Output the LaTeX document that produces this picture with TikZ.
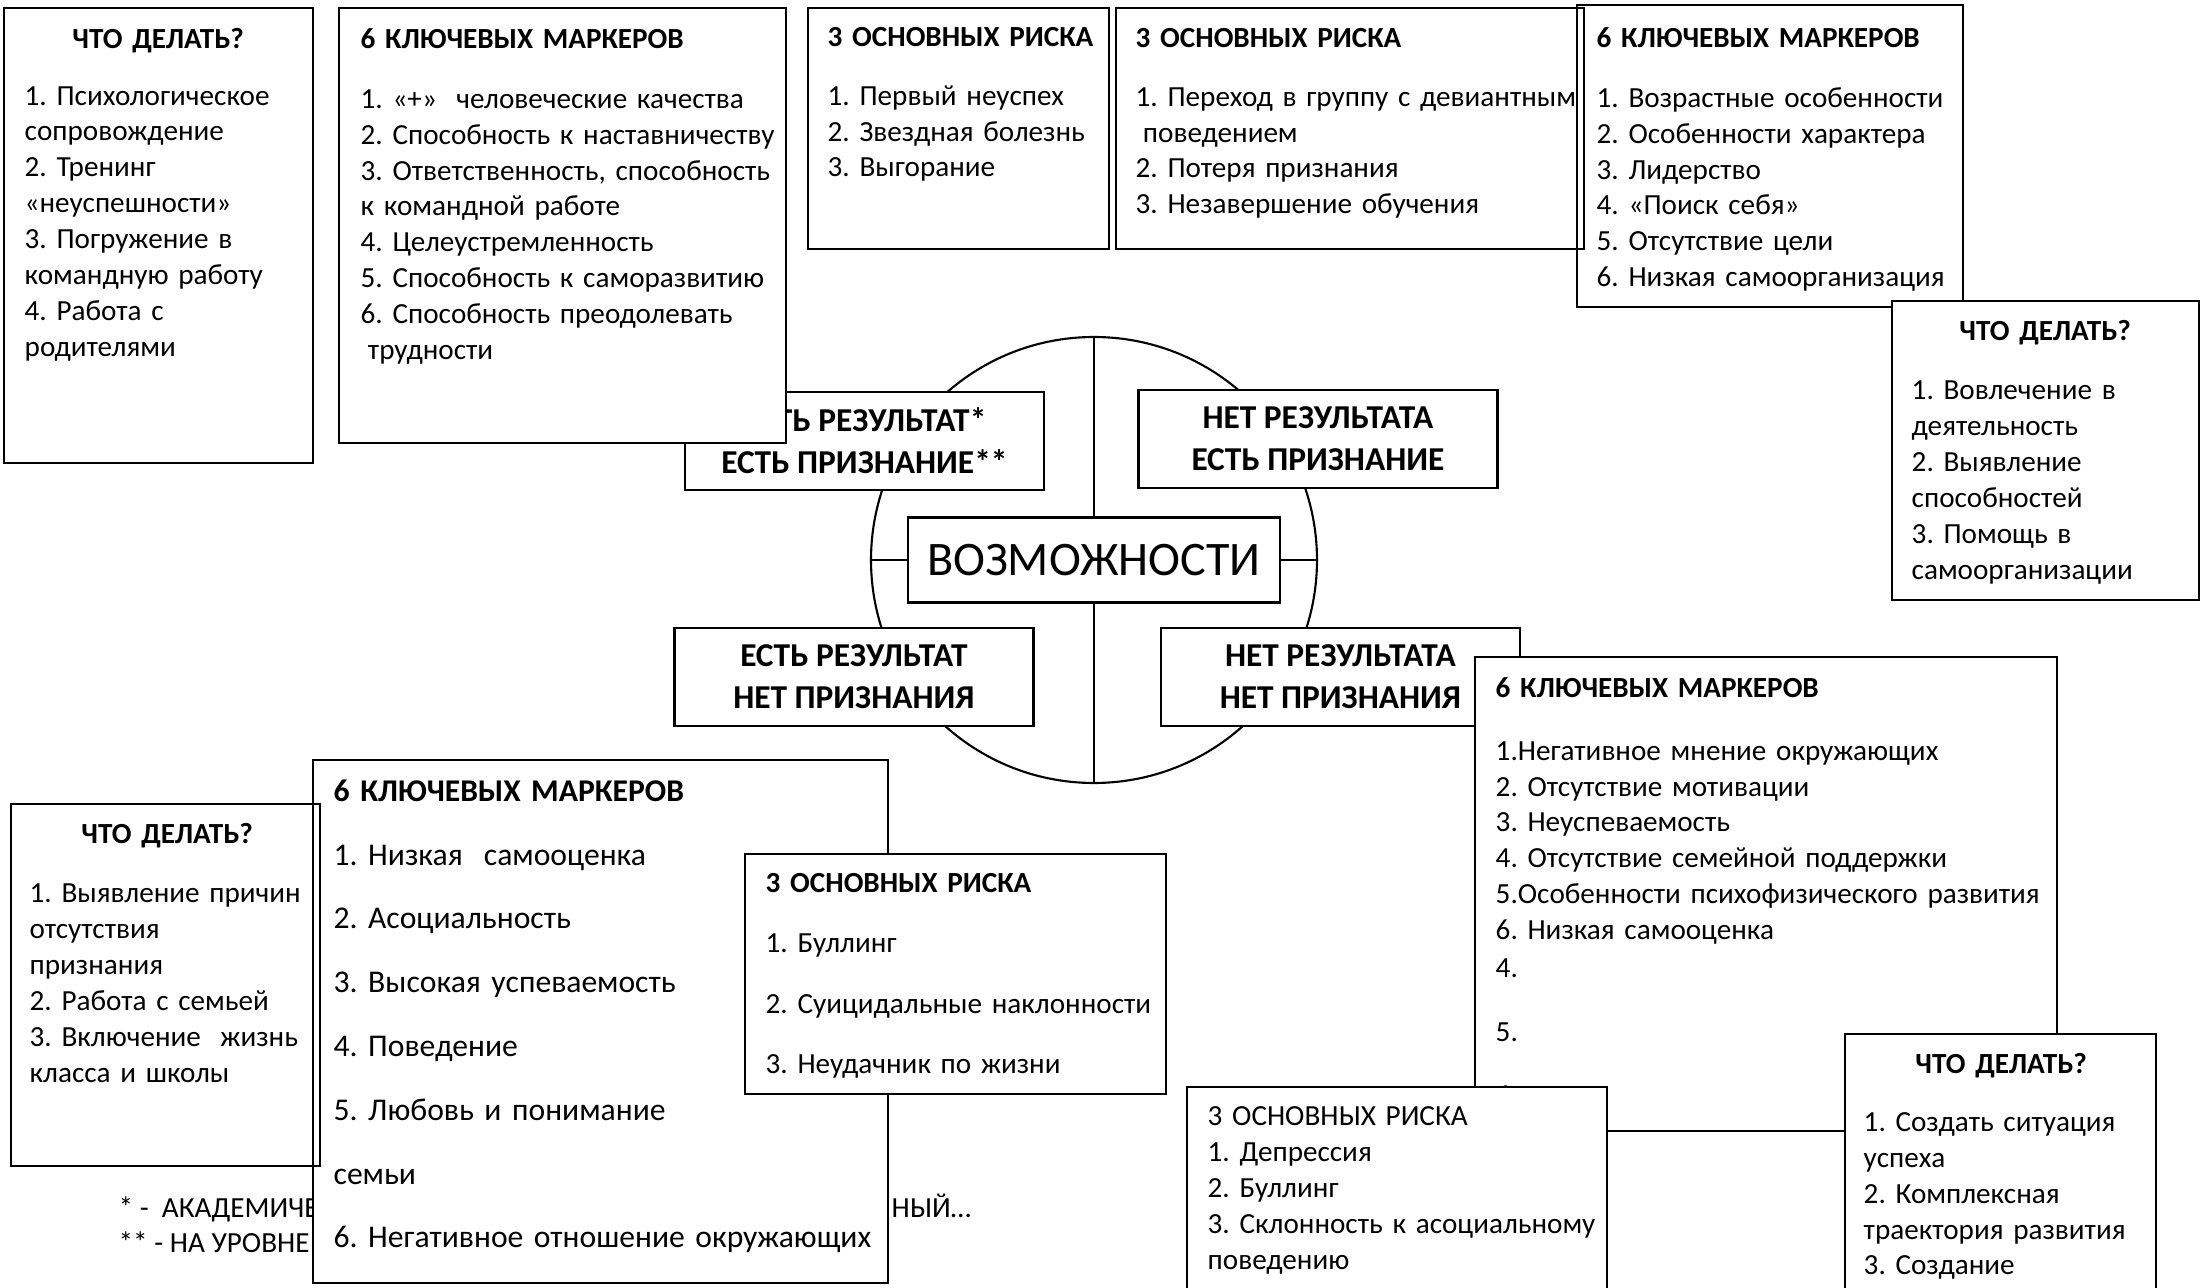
\documentclass[tikz,border=0pt]{standalone}
\usepackage{fontspec}
\setmainfont{Carlito}
\frenchspacing
\tikzstyle{frame} = [rectangle, draw=black, line width=0.6pt, anchor=north west, inner sep=0pt]
\tikzstyle{cover} = [frame, fill=white]
\tikzstyle{list} = [anchor=north west, align=left, inner sep=0pt, font=\fontsize{8.3}{10.2}\selectfont]
\tikzstyle{biglist} = [list, font=\fontsize{9}{18.15}\selectfont]
\tikzstyle{quadrant} = [rectangle, draw=black, line width=0.6pt, fill=white, minimum width=3.59cm, minimum height=0.98cm, align=center, font=\bfseries\fontsize{9.5}{12}\selectfont]
\tikzstyle{line} = [line width=0.6pt,-]

\begin{document}
\begin{tikzpicture}
  \useasboundingbox (0,0) rectangle (22.01,-12.88);

  % centre
  \node (ring) [circle, draw=black, line width=0.6pt, minimum size=4.46cm, inner sep=0pt] at (10.94,-5.60) {};
  \node (core) [rectangle, draw=black, line width=0.6pt, fill=white, minimum width=3.72cm, minimum height=0.85cm, font=\fontsize{13.7}{16}\selectfont] at (10.94,-5.60) {ВОЗМОЖНОСТИ};
  \draw [line] (ring.north) -- (core.north);
  \draw [line] (core.south) -- (ring.south);
  \draw [line] (ring.west) -- (core.west);
  \draw [line] (core.east) -- (ring.east);

  \node (resrec) [quadrant] at (8.645,-4.41) {ЕСТЬ РЕЗУЛЬТАТ*\\ЕСТЬ ПРИЗНАНИЕ**};
  \node (norec) [quadrant] at (13.18,-4.39) {НЕТ РЕЗУЛЬТАТА\\ЕСТЬ ПРИЗНАНИЕ};
  \node (resnorec) [quadrant] at (8.54,-6.77) {ЕСТЬ РЕЗУЛЬТАТ\\НЕТ ПРИЗНАНИЯ};
  \node (nonorec) [quadrant] at (13.405,-6.77) {НЕТ РЕЗУЛЬТАТА\\НЕТ ПРИЗНАНИЯ};

  % top row
  \node (doA) [frame, minimum width=3.09cm, minimum height=4.55cm] at (0.03,-0.07) {};
  \node (doAtext) [list, text width=2.67cm, xshift=0.21cm, yshift=-0.21cm] at (doA.north west)
    {{\centering\textbf{ЧТО ДЕЛАТЬ?}\par}\vspace{5.8pt}
     1. Психологическое\\сопровождение\\2. Тренинг\\«неуспешности»\\3. Погружение в\\командную работу\\4. Работа с\\родителями};

  \node (markA) [cover, minimum width=4.47cm, minimum height=4.35cm] at (3.38,-0.07) {};
  \node (markAtext) [list, text width=4.2cm, xshift=0.22cm, yshift=-0.21cm] at (markA.north west)
    {\textbf{6 КЛЮЧЕВЫХ МАРКЕРОВ}\\[6.8pt]
     1. «+»\ \ человеческие качества\\2. Способность к наставничеству\\3. Ответственность, способность\\к командной работе\\4. Целеустремленность\\5. Способность к саморазвитию\\6. Способность преодолевать\\\hspace*{0.25em}трудности};

  \node (riskA) [frame, minimum width=3.01cm, minimum height=2.41cm] at (8.07,-0.07) {};
  \node (riskAtext) [list, text width=2.8cm, xshift=0.2cm, yshift=-0.2cm] at (riskA.north west)
    {\textbf{3 ОСНОВНЫХ РИСКА}\\[6.4pt]
     1. Первый неуспех\\2. Звездная болезнь\\3. Выгорание};

  \node (markB) [frame, minimum width=3.86cm, minimum height=3.02cm] at (15.76,-0.04) {};
  \node (markBtext) [list, text width=3.7cm, xshift=0.2cm, yshift=-0.23cm] at (markB.north west)
    {\textbf{6 КЛЮЧЕВЫХ МАРКЕРОВ}\\[6.8pt]
     1. Возрастные особенности\\2. Особенности характера\\3. Лидерство\\4. «Поиск себя»\\5. Отсутствие цели\\6. Низкая самоорганизация};

  \node (riskB) [frame, minimum width=4.68cm, minimum height=2.41cm] at (11.15,-0.07) {};
  \node (riskBtext) [list, text width=4.5cm, xshift=0.2cm, yshift=-0.21cm] at (riskB.north west)
    {\textbf{3 ОСНОВНЫХ РИСКА}\\[6.4pt]
     1. Переход в группу с девиантным\\\hspace*{0.25em}поведением\\2. Потеря признания\\3. Незавершение обучения};

  \node (doB) [cover, minimum width=3.07cm, minimum height=2.99cm] at (18.91,-3.00) {};
  \node (doBtext) [list, text width=2.67cm, xshift=0.2cm, yshift=-0.2cm] at (doB.north west)
    {{\centering\textbf{ЧТО ДЕЛАТЬ?}\par}\vspace{6.6pt}
     1. Вовлечение в\\деятельность\\2. Выявление\\способностей\\3. Помощь в\\самоорганизации};

  % bottom row
  \node (noteA) [list, anchor=base west] at (1.18,-12.18) {* -\ \ АКАДЕМИЧЕ};
  \node (noteB) [list, anchor=base west] at (1.18,-12.53) {** - НА УРОВНЕ};
  \node (noteC) [list, anchor=base west] at (8.91,-12.18) {НЫЙ…};

  \node (markC) [cover, minimum width=5.75cm, minimum height=5.23cm] at (3.12,-7.59) {};
  \node (markCtext) [biglist, text width=5.5cm, xshift=0.21cm, yshift=-0.2cm] at (markC.north west)
    {\textbf{6 КЛЮЧЕВЫХ МАРКЕРОВ}\\
     1. Низкая\ \ самооценка\\2. Асоциальность\\3. Высокая успеваемость\\4. Поведение\\5. Любовь и понимание\\семьи\\6. Негативное отношение окружающих};

  \node (doC) [frame, minimum width=3.09cm, minimum height=3.62cm] at (0.10,-8.03) {};
  \node (doCtext) [list, text width=2.75cm, xshift=0.19cm, yshift=-0.2cm] at (doC.north west)
    {{\centering\textbf{ЧТО ДЕЛАТЬ?}\par}\vspace{6.6pt}
     1. Выявление причин\\отсутствия\\признания\\2. Работа с семьей\\3. Включение\ \ жизнь\\класса и школы};

  \node (riskC) [cover, minimum width=4.21cm, minimum height=2.40cm] at (7.44,-8.53) {};
  \node (riskCtext) [list, font=\fontsize{8.3}{17.1}\selectfont, text width=4.0cm, xshift=0.21cm, yshift=-0.2cm] at (riskC.north west)
    {\textbf{3 ОСНОВНЫХ РИСКА}\\
     1. Буллинг\\2. Суицидальные наклонности\\3. Неудачник по жизни};

  \node (markD) [cover, minimum width=5.82cm, minimum height=4.74cm] at (14.74,-6.56) {};
  \node (markDtext) [list, text width=5.6cm, xshift=0.21cm, yshift=-0.21cm] at (markD.north west)
    {\textbf{6 КЛЮЧЕВЫХ МАРКЕРОВ}\\[7.6pt]
     1.Негативное мнение окружающих\\2. Отсутствие мотивации\\3. Неуспеваемость\\4. Отсутствие семейной поддержки\\5.Особенности психофизического развития\\6. Низкая самооценка\\[0.6pt]4.\\[8pt]5.\\[8pt]6.};

  \node (riskD) [cover, minimum width=4.20cm, minimum height=2.30cm] at (11.86,-10.86) {};
  \node (riskDtext) [list, text width=4.0cm, xshift=0.21cm, yshift=-0.2cm] at (riskD.north west)
    {3 ОСНОВНЫХ РИСКА\\1. Депрессия\\2. Буллинг\\3. Склонность к асоциальному\\поведению};

  \node (doD) [cover, minimum width=3.11cm, minimum height=2.70cm] at (18.44,-10.33) {};
  \node (doDtext) [list, text width=2.75cm, xshift=0.19cm, yshift=-0.2cm] at (doD.north west)
    {{\centering\textbf{ЧТО ДЕЛАТЬ?}\par}\vspace{6.2pt}
     1. Создать ситуация\\успеха\\2. Комплексная\\траектория развития\\3. Создание};
\end{tikzpicture}
\end{document}
